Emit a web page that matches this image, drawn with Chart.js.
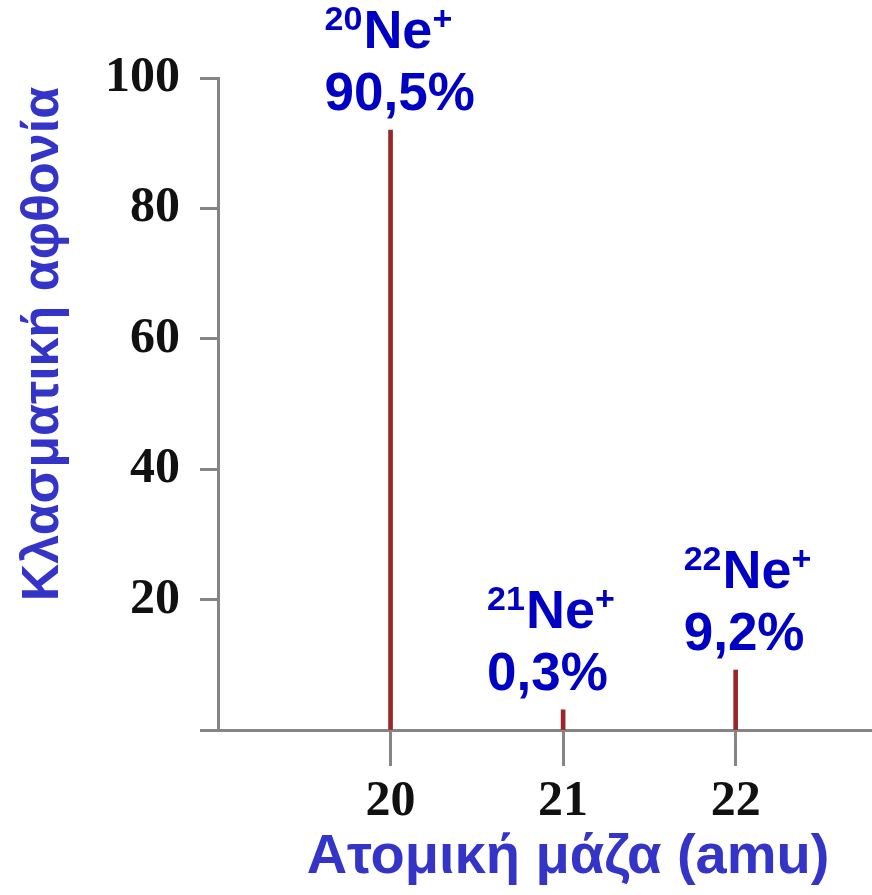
<!DOCTYPE html>
<html>
<head>
<meta charset="utf-8">
<script src="https://cdn.jsdelivr.net/npm/chart.js@4"></script>
<style>
  html, body { margin: 0; padding: 0; background: #fff; }
  #wrap { width: 872px; height: 895px; }
</style>
</head>
<body>
<div id="wrap"><canvas id="spectrum"></canvas></div>
<script>
// isotope peaks of neon
const masses = [20, 21, 22];
const abundance = [92, 3.1, 9.2];
const isotopes = ['20', '21', '22'];
const percentLabels = ['90,5%', '0,3%', '9,2%'];
const xTicks = [20, 21, 22];

const labelShift = [-66, -76, -52];   // left edge of each label vs. its peak
const blue = '#0000c4';
const titleBlue = '#3434c8';
const axisGray = '#858585';
const serif = "'Liberation Serif', 'DejaVu Serif', serif";
const sans = "'Liberation Sans', Arial, sans-serif";

const peakLabels = {
  id: 'peakLabels',
  afterDatasetsDraw(chart) {
    const ctx = chart.ctx;
    const x = chart.scales.x, y = chart.scales.y;
    ctx.save();
    ctx.fillStyle = blue;
    ctx.textBaseline = 'alphabetic';
    ctx.textAlign = 'left';
    masses.forEach((m, i) => {
      const left = x.getPixelForValue(m) + labelShift[i];
      const base = y.getPixelForValue(abundance[i]) - 20;
      // second line: percentage
      ctx.font = 'bold 53px ' + sans;
      ctx.fillText(percentLabels[i], left, base);
      // first line: mass number as superscript + Ne + charge
      let cx = left;
      const top = base - 62;
      ctx.font = 'bold 34px ' + sans;
      ctx.fillText(isotopes[i], cx, top - 18);
      cx += ctx.measureText(isotopes[i]).width + 1;
      ctx.font = 'bold 54px ' + sans;
      ctx.fillText('Ne', cx, top);
      cx += ctx.measureText('Ne').width;
      ctx.font = 'bold 34px ' + sans;
      ctx.fillText('+', cx, top - 18);
    });
    ctx.restore();
  },
  afterDraw(chart) {
    const ctx = chart.ctx;
    ctx.save();
    ctx.fillStyle = titleBlue;
    ctx.textAlign = 'center';
    ctx.textBaseline = 'middle';
    ctx.font = 'bold 56px ' + sans;
    ctx.fillText('Ατομική μάζα (amu)', 568, 858);
    ctx.translate(44, 344);
    ctx.rotate(-Math.PI / 2);
    ctx.font = 'bold 52px ' + sans;
    ctx.fillText('Κλασματική αφθονία', 0, 0);
    ctx.restore();
  }
};

const ctx = document.getElementById('spectrum').getContext('2d');

new Chart(ctx, {
  type: 'bar',
  data: {
    datasets: [{
      data: masses.map((m, i) => ({ x: m, y: abundance[i] })),
      backgroundColor: '#9a2626',
      borderWidth: 0,
      barThickness: 4
    }]
  },
  options: {
    responsive: true,
    maintainAspectRatio: false,
    animation: false,
    layout: {
      padding: { top: 78, right: 0, left: 0, bottom: 0 }
    },
    plugins: {
      legend: { display: false },
      tooltip: { enabled: false }
    },
    scales: {
      x: {
        type: 'linear',
        min: 19,
        max: 22.79,
        offset: false,
        afterBuildTicks: scale => {
          scale.ticks = xTicks.map(v => ({ value: v }));
        },
        afterFit: scale => { scale.height = 165; },
        border: { color: axisGray, width: 3 },
        grid: {
          offset: false,
          drawOnChartArea: false,
          drawTicks: true,
          tickLength: 36,
          tickColor: axisGray,
          tickWidth: 3
        },
        ticks: {
          color: '#111',
          padding: 6,
          font: { family: serif, size: 50, weight: 'bold' }
        }
      },
      y: {
        min: 0,
        max: 100,
        afterFit: scale => { scale.width = 218; },
        border: { color: axisGray, width: 3 },
        grid: {
          drawOnChartArea: false,
          drawTicks: true,
          tickLength: 18,
          tickColor: axisGray,
          tickWidth: 3
        },
        ticks: {
          stepSize: 20,
          color: '#111',
          padding: 20,
          font: { family: serif, size: 50, weight: 'bold' },
          callback: v => v === 0 ? '' : v
        }
      }
    }
  },
  plugins: [peakLabels]
});
</script>
</body>
</html>
